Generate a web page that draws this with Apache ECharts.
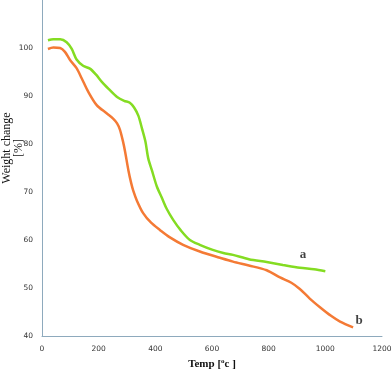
<!DOCTYPE html>
<html>
<head>
<meta charset="utf-8">
<script src="https://cdn.jsdelivr.net/npm/echarts@6/dist/echarts.min.js"></script>
<style>html,body{margin:0;padding:0;background:#fff}#c{width:392px;height:372px}</style>
</head>
<body>
<div id="c"></div>
<script>
// Curve a (green)
var tempA = [21,40,64,87,105,122,145,169,190,212,235,265,290,310,325,340,353,365,375,388,405,423,440,463,490,522,557,600,640,674,730,793,850,910,960,1000];
var weightA = [101.6,101.8,101.8,101.2,99.8,97.6,96.3,95.7,94.5,92.9,91.5,89.8,89.0,88.6,87.6,85.9,83.2,80.5,77.0,74.5,71.2,68.8,66.5,64.2,62.0,60.0,59.0,58.0,57.3,56.9,56.0,55.4,54.8,54.2,53.9,53.5];
// Curve b (orange)
var tempB = [21,40,64,81,99,122,140,163,193,228,251,265,275,286,293,305,315,322,335,357,385,416,450,498,557,628,674,730,793,840,880,910,945,981,1020,1052,1098];
var weightB = [99.8,100.1,100.0,99.2,97.5,95.8,93.7,90.9,88.1,86.4,85.3,84.3,83.0,80.5,78.5,74.5,71.8,70.3,68.2,65.6,63.6,62.1,60.6,59.0,57.6,56.3,55.5,54.7,53.7,52.2,51.1,49.8,47.8,46.0,44.2,43.0,41.8];
// Curve labels
var labelTexts = ['a','b'];
var labelTemps = [921,1119];
var labelWeights = [56.9,43.1];

var xTicks = [0,200,400,600,800,1000,1200];
var yTicks = [40,50,60,70,80,90,100];

function pairs(xs, ys){ return xs.map(function(x,i){ return [x, ys[i]]; }); }

var chart = echarts.init(document.getElementById('c'), null, {renderer:'canvas'});
var axisCol = '#8eaabd';
chart.setOption({
  animation:false,
  backgroundColor:'#fff',
  grid:{left:42, right:10, top:0, bottom:36, containLabel:false, outerBoundsMode:'none'},
  xAxis:{
    type:'value', min:0, max:1200, interval:200,
    name:'Temp [{sup|o}c ]', nameLocation:'middle', nameGap:22,
    nameTextStyle:{fontFamily:'Liberation Serif', fontWeight:'bold', fontSize:11, color:'#111',
      rich:{sup:{fontSize:7, verticalAlign:'top', padding:[0,0,5,0], fontFamily:'Liberation Serif', fontWeight:'bold', color:'#111'}}},
    axisLine:{show:true, lineStyle:{color:axisCol, width:1}},
    axisTick:{show:false},
    splitLine:{show:false},
    axisLabel:{fontFamily:'DejaVu Sans', fontSize:7.5, color:'#333', margin:9,
      formatter:function(v){ return xTicks.indexOf(v)>=0 ? String(v) : ''; }}
  },
  yAxis:{
    type:'value', min:40, max:110, interval:10,
    axisLine:{show:true, lineStyle:{color:axisCol, width:1}},
    axisTick:{show:false},
    splitLine:{show:false},
    axisLabel:{fontFamily:'DejaVu Sans', fontSize:7.5, color:'#333', margin:9,
      formatter:function(v){ return yTicks.indexOf(v)>=0 ? String(v) : ''; }}
  },
  graphic:[{
    type:'text', x:13, y:148, rotation:Math.PI/2,
    style:{text:'Weight change\n[%]', fontFamily:'Liberation Serif', fontSize:12, fill:'#111',
      align:'center', verticalAlign:'middle', lineHeight:12}
  }],
  series:[
    {type:'line', data:pairs(tempA, weightA), smooth:0.3, showSymbol:false,
     lineStyle:{color:'#84dc22', width:2.5}},
    {type:'line', data:pairs(tempB, weightB), smooth:0.3, showSymbol:false,
     lineStyle:{color:'#f47a35', width:2.5}},
    {type:'scatter', symbolSize:0, data:pairs(labelTemps, labelWeights).map(function(p,i){
        return {value:p, label:{show:true, formatter:labelTexts[i]}};
      }),
     label:{show:true, position:'inside', fontFamily:'Liberation Serif', fontWeight:'bold', fontSize:13, color:'#111'}}
  ]
});
</script>
</body>
</html>
